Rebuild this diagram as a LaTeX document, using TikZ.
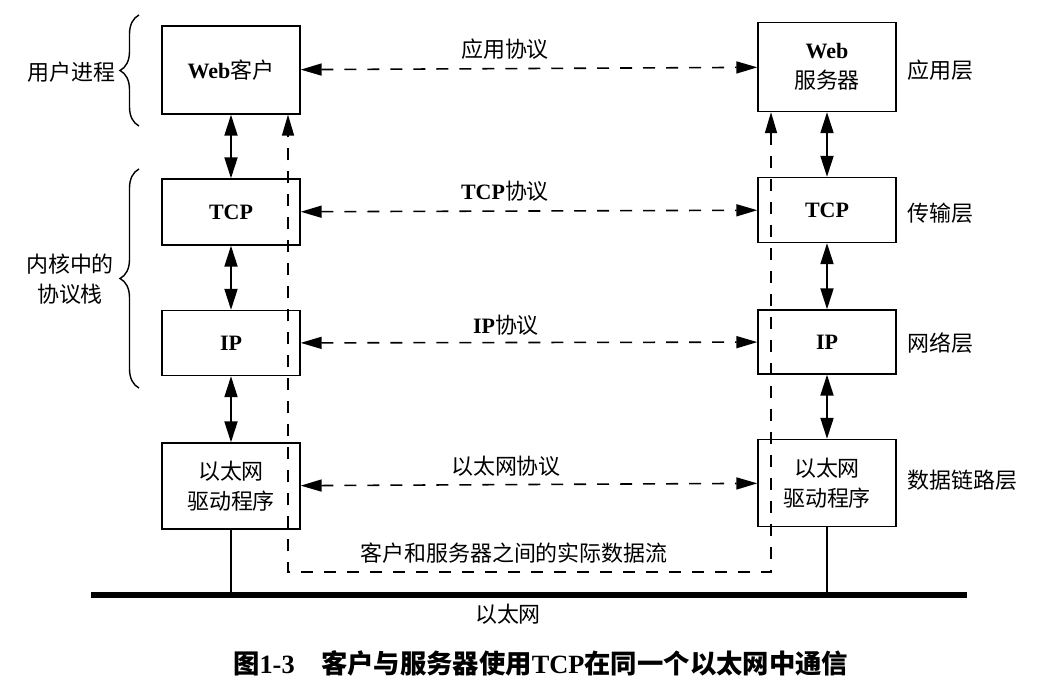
\documentclass[tikz,border=0pt]{standalone}
\usepackage{fontspec}
\usepackage{tikz}
\usetikzlibrary{arrows.meta,decorations.pathreplacing}
\setmainfont{Liberation Serif}
\newfontfamily\cjk{Noto Sans CJK SC}

\tikzset{
  layerbox/.style={draw,line width=0.8pt,minimum width=2.76cm,inner sep=0pt,align=center,
    font=\cjk\fontsize{12.5}{17}\selectfont},
  lbl/.style={font=\cjk\fontsize{12.5}{17}\selectfont,inner sep=0pt},
  updown/.style={{Triangle[length=0.42cm,width=0.26cm]}-{Triangle[length=0.42cm,width=0.26cm]},line width=1.1pt},
  peer/.style={{Triangle[length=0.42cm,width=0.24cm]}-{Triangle[length=0.42cm,width=0.24cm]},
    line width=0.9pt,dash pattern=on 0.24cm off 0.22cm},
  bus/.style={line width=3pt},
  side/.style={decorate,decoration={brace,amplitude=0.38cm},line width=0.8pt}
}

\begin{document}
\begin{tikzpicture}[x=0.02cm,y=-0.02cm]
\useasboundingbox (0,0) rectangle (1044,682);

% client side
\node[layerbox,minimum height=1.76cm] (wc) at (231,70) {{\rmfamily\bfseries Web}客户};
\node[layerbox,minimum height=1.32cm] (tcpL) at (231,212) {\rmfamily\bfseries TCP};
\node[layerbox,minimum height=1.30cm] (ipL) at (231,343) {\rmfamily\bfseries IP};
\node[layerbox,minimum height=1.72cm] (ethL) at (231,486) {以太网\\驱动程序};

% server side
\node[layerbox,minimum height=1.78cm] (ws) at (827,67) {{\rmfamily\bfseries Web}\\服务器};
\node[layerbox,minimum height=1.30cm] (tcpR) at (827,210) {\rmfamily\bfseries TCP};
\node[layerbox,minimum height=1.28cm] (ipR) at (827,342) {\rmfamily\bfseries IP};
\node[layerbox,minimum height=1.74cm] (ethR) at (827,483) {以太网\\驱动程序};

\draw[updown] (wc) -- (tcpL);
\draw[updown] (tcpL) -- (ipL);
\draw[updown] (ipL) -- (ethL);
\draw[updown] (ws) -- (tcpR);
\draw[updown] (tcpR) -- (ipR);
\draw[updown] (ipR) -- (ethR);

\draw[peer] (wc) -- (ws);
\draw[peer] (tcpL) -- (tcpR);
\draw[peer] (ipL) -- (ipR);
\draw[peer] (ethL) -- (ethR);

\node[lbl] (appP) at (505,49) {应用协议};
\node[lbl] (tcpP) at (505,191) {{\rmfamily\bfseries TCP}协议};
\node[lbl] (ipP) at (506,325) {{\rmfamily\bfseries IP}协议};
\node[lbl] (ethP) at (506,466) {以太网协议};

% actual data flow
\coordinate (flowL) at (288,572);
\coordinate (flowR) at (771,572);
\draw[peer] (ws.south -| flowR) -- (flowR) -- (flowL) -- (wc.south -| flowL);
\node[lbl] (flowP) at (514,553) {客户和服务器之间的实际数据流};

% ethernet
\coordinate (busL) at (91,595);
\coordinate (busR) at (967,595);
\draw[bus] (busL) -- (busR);
\draw[line width=0.8pt] (ethL.south) -- (ethL.south |- busL);
\draw[line width=0.8pt] (ethR.south) -- (ethR.south |- busL);
\node[lbl] (busP) at (508,614) {以太网};

% layer names
\node[lbl,anchor=west] (appL) at (907,70) {应用层};
\node[lbl,anchor=west] (tcpN) at (907,213) {传输层};
\node[lbl,anchor=west] (ipN) at (907,343) {网络层};
\node[lbl,anchor=west] (ethN) at (907,480) {数据链路层};

% braces
\draw[side] (139,126) -- (139,15);
\draw[side] (139,388) -- (139,169);
\node[lbl,anchor=east] (userP) at (116,72) {用户进程};
\node[lbl,align=center] (kernP) at (70,279) {内核中的\\协议栈};

\node[font=\cjk\bfseries\fontsize{15}{18}\selectfont,anchor=west] (cap) at (227,663)
  {图{\rmfamily\bfseries 1-3}\quad 客户与服务器使用{\rmfamily\bfseries TCP}在同一个以太网中通信};
\end{tikzpicture}
\end{document}
